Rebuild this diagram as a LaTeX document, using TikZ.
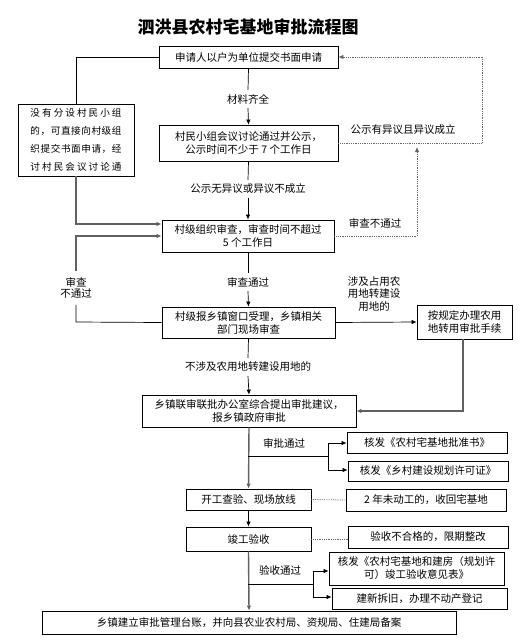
\documentclass[tikz,border=0pt]{standalone}
\usepackage{fontspec}
\setmainfont{Noto Sans CJK SC}
\usetikzlibrary{arrows.meta}
\tikzset{
  box/.style={draw=black, line width=0.8pt, inner sep=0pt, align=center, font=\fontsize{10.5}{13}\selectfont},
  lab/.style={inner sep=4pt, align=center, font=\fontsize{10.5}{12}\selectfont},
  thin/.style={draw=black, line width=0.7pt},
  thick/.style={draw=black!62, line width=1.4pt},
  dots/.style={draw=black!60, line width=0.8pt, dash pattern=on 0.8pt off 1pt},
  tip/.style={-{Latex[length=5pt,width=4.5pt]}},
}
\newcommand{\sline}[1]{\makebox[91pt][s]{#1}}
\begin{document}
\begin{tikzpicture}[x=1pt,y=-1pt]
\useasboundingbox (0,0) rectangle (522,643);
\node[font=\fontsize{17}{20}\selectfont\bfseries] (title) at (248,27) {泗洪县农村宅基地审批流程图};

\node[box, minimum width=179pt, minimum height=22pt] (b1) at (248.5,57) {申请人以户为单位提交书面申请};
\node[box, minimum width=116pt, minimum height=72pt, font=\fontsize{9.6}{18}\selectfont] (bL) at (76,140) {%
\sline{没\hfill 有\hfill 分\hfill 设\hfill 村\hfill 民\hfill 小\hfill 组}\\
\sline{的\hfill ，\hfill 可\hfill 直\hfill 接\hfill 向\hfill 村\hfill 级\hfill 组}\\
\sline{织\hfill 提\hfill 交\hfill 书\hfill 面\hfill 申\hfill 请\hfill ，\hfill 经}\\
\sline{讨\hfill 村\hfill 民\hfill 会\hfill 议\hfill 讨\hfill 论\hfill 通}};
\node[box, minimum width=179pt, minimum height=36pt] (b2) at (248.5,143) {村民小组会议讨论通过并公示，\\公示时间不少于 7 个工作日};
\node[box, minimum width=172pt, minimum height=32pt] (b3) at (248,236) {村级组织审查，审查时间不超过\\5 个工作日};
\node[box, minimum width=173pt, minimum height=31pt] (b4) at (248.5,322.5) {村级报乡镇窗口受理，乡镇相关\\部门现场审查};
\node[box, minimum width=95pt, minimum height=34pt] (b5) at (464.5,322) {按规定办理农用\\地转用审批手续};
\node[box, minimum width=214pt, minimum height=32pt] (b6) at (249,411) {乡镇联审联批办公室综合提出审批建议，\\报乡镇政府审批};
\node[box, minimum width=160pt, minimum height=21pt] (b8) at (427,442.5) {核发《农村宅基地批准书》};
\node[box, minimum width=160pt, minimum height=20pt] (b9) at (428,471) {核发《乡村建设规划许可证》};
\node[box, minimum width=125pt, minimum height=21pt] (b7) at (248.5,499.5) {开工查验、现场放线};
\node[box, minimum width=160pt, minimum height=22pt] (b10) at (426,500) {2 年未动工的，收回宅基地};
\node[box, minimum width=125pt, minimum height=24pt] (b11) at (248.5,539) {竣工验收};
\node[box, minimum width=160pt, minimum height=22pt] (b12) at (428,537) {验收不合格的，限期整改};
\node[box, minimum width=175pt, minimum height=33pt] (b13) at (416.5,568.5) {核发《农村宅基地和建房（规划许\\可）竣工验收意见表》};
\node[box, minimum width=175pt, minimum height=21pt] (b14) at (419.5,598.5) {建新拆旧，办理不动产登记};
\node[box, minimum width=414pt, minimum height=23pt] (b15) at (249,622.5) {乡镇建立审批管理台账，并向县农业农村局、资规局、住建局备案};

% labels
\node[lab] (l1) at (248,99) {材料齐全};
\node[lab] (l2) at (248,189) {公示无异议或异议不成立};
\node[lab] (l3) at (248,282) {审查通过};
\node[lab] (l4) at (248,367) {不涉及农用地转建设用地的};
\node[lab, inner sep=0pt] (l5) at (403,130) {公示有异议且异议成立};
\node[lab, inner sep=0pt] (l6) at (375,223) {审查不通过};
\node[lab, inner sep=0pt, font=\fontsize{10.5}{12.5}\selectfont] (l7) at (374,294) {涉及占用农\\用地转建设\\用地的};
\node[lab, inner sep=6pt, font=\fontsize{10.5}{11.5}\selectfont] (l8) at (76,288) {审查\\不通过};
\node[lab, inner sep=0pt] (l9) at (284,443) {审批通过};
\node[lab, inner sep=0pt] (l10) at (280,570) {验收通过};

% coordinates
\coordinate (cR1) at (482,143);
\coordinate (cR1t) at (482,57);
\coordinate (cL1) at (76,224);
\coordinate (cL2) at (76,236);
\coordinate (cL3) at (76,322);
\coordinate (cD1) at (417,236);
\coordinate (cD2) at (417,147);
\coordinate (c5) at (463,411);
\coordinate (j0) at (248,456);
\coordinate (j1) at (328,456);
\coordinate (j1a) at (328,443);
\coordinate (j1b) at (328,470);
\coordinate (k0) at (248,584);
\coordinate (k1) at (313,584);
\coordinate (k1a) at (313,571);
\coordinate (k1b) at (313,597);

% connectors
\draw[thin] (b1.west) -| (bL.north);
\draw[thin] (b1.south) -- (l1.north);
\draw[thin, tip] (l1.south) -- (b2.north);
\draw[dots] (b2.east) -- (cR1) -- (cR1t);
\draw[dots, tip] (cR1t) -- (b1.east);
\draw[thin] (b2.south) -- (l2.north);
\draw[thin, tip] (l2.south) -- (b3.north);
\draw[thick, tip] (bL.south) -- (cL1) -- (cL1 -| b3.west);
\draw[thin] (b4.west) -- (cL3) -- (l8.south);
\draw[thick, tip] (l8.north) -- (cL2) -- (cL2 -| b3.west);
\draw[dots, tip] (b3.east |- cD1) -- (cD1) -- (cD2);
\draw[thin] (b3.south) -- (l3.north);
\draw[thin, tip] (l3.south) -- (b4.north);
\draw[thin, tip] (b4.east) -- (b5.west);
\draw[thick, tip] (b5.south -| c5) -- (c5) -- (b6.east |- c5);
\draw[thin] (b4.south) -- (l4.north);
\draw[thin, tip] (l4.south) -- (b6.north);
\draw[thick, tip] (b6.south) -- (b7.north);
\draw[thin] (j0) -- (j1);
\draw[thin] (j1a) -- (j1b);
\draw[thin, tip] (j1a) -- (b8.west |- j1a);
\draw[thin, tip] (j1b) -- (b9.west |- j1b);
\draw[dots] (b7.east) -- (b10.west);
\draw[thin, tip] (b7.south) -- (b11.north);
\draw[dots] (b11.east) -- (b11.east -| b12.west);
\draw[thick, tip] (b11.south) -- (b15.north);
\draw[thin] (k0) -- (k1);
\draw[thin] (k1a) -- (k1b);
\draw[thin, tip] (k1a) -- (b13.west |- k1a);
\draw[thin, tip] (k1b) -- (b14.west |- k1b);
\end{tikzpicture}
\end{document}
